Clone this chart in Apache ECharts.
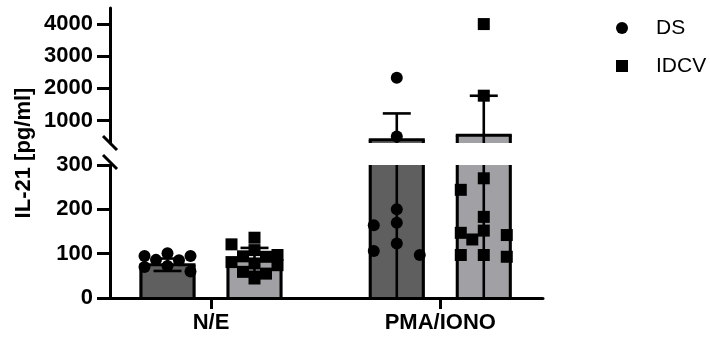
<!DOCTYPE html>
<html><head><meta charset="utf-8">
<script src="https://cdn.jsdelivr.net/npm/echarts@6/dist/echarts.min.js"></script>
<style>html,body{margin:0;padding:0;background:#fff}#c{width:710px;height:342px}</style>
</head><body><div id="c"></div>
<script>
// ---------- data ----------
const categories = ['N/E', 'PMA/IONO'];
const seriesNames = ['DS', 'IDCV'];
const dsPoints = [[95, 70, 86, 101, 72, 85, 95, 60], [170, 97, 123, 200, 164, 106, 2330, 500]];
const idcvPoints = [[121, 108, 136, 74, 93, 97, 81, 78, 44, 55, 59, 94], [132, 93, 244, 183, 152, 270, 142, 97, 147, 97, 4000, 1772]];
const dsMean = [75, 400];
const dsSD = [14, 820];
const idcvMean = [86, 540];
const idcvSD = [27, 1230];
const lowerRange = [0, 300];
const lowerInterval = 100;
const upperRange = [300, 4500];
const upperTicks = [1000, 2000, 3000, 4000];
const yTitle = 'IL-21 [pg/ml]';

// ---------- styles ----------
const FONT = '"Liberation Sans", Arial, sans-serif';
const fills = ['#5f5f5f', '#a1a1a5'];
const symbols = ['circle', 'rect'];
const BAR_OFF = 43.5, BAR_W = 56, LW = 3, CAP = 28, SYM = 12;
const X_MIN = -0.4405, X_MAX = 1.448;

const chart = echarts.init(document.getElementById('c'), null, {renderer: 'canvas'});

function barRender(g) {
  return function (params, api) {
    const cat = api.value(0), mean = api.value(1), sd = api.value(2);
    const cs = params.coordSys;
    const top = cs.y, bot = cs.y + cs.height;
    const clampY = y => Math.max(top, Math.min(bot, y));
    const pm = api.coord([cat, mean]);
    const cx = pm[0] + (g === 0 ? -BAR_OFF : BAR_OFF);
    const yMean = pm[1];
    const yBase = api.coord([cat, 0])[1];
    const y1 = clampY(yMean), y0 = clampY(yBase);
    const left = cx - BAR_W / 2, right = cx + BAR_W / 2;
    const blk = {stroke: '#000', lineWidth: LW};
    const ch = [];
    if (y0 - y1 > 0) {
      ch.push({type: 'rect', shape: {x: left, y: y1, width: BAR_W, height: y0 - y1}, style: {fill: fills[g]}});
      ch.push({type: 'line', shape: {x1: left + LW / 2, y1: y1, x2: left + LW / 2, y2: y0}, style: blk});
      ch.push({type: 'line', shape: {x1: right - LW / 2, y1: y1, x2: right - LW / 2, y2: y0}, style: blk});
      if (yMean >= top && yMean <= bot) {
        ch.push({type: 'line', shape: {x1: left, y1: yMean, x2: right, y2: yMean}, style: blk});
      }
    }
    const yHi = api.coord([cat, mean + sd])[1];
    const yLo = api.coord([cat, Math.max(0, mean - sd)])[1];
    const e1 = clampY(yHi), e0 = clampY(yLo);
    if (e0 - e1 > 0) {
      ch.push({type: 'line', shape: {x1: cx, y1: e1, x2: cx, y2: e0}, style: {stroke: '#000', lineWidth: 2.6}});
    }
    if (yHi >= top && yHi <= bot) {
      ch.push({type: 'line', shape: {x1: cx - CAP / 2, y1: yHi, x2: cx + CAP / 2, y2: yHi}, style: {stroke: '#000', lineWidth: 2.6}});
    }
    if (mean - sd > 0 && yLo >= top && yLo <= bot) {
      ch.push({type: 'line', shape: {x1: cx - CAP / 2, y1: yLo, x2: cx + CAP / 2, y2: yLo}, style: {stroke: '#000', lineWidth: 2.6}});
    }
    return {type: 'group', children: ch};
  };
}

const means = [dsMean, idcvMean];
const sds = [dsSD, idcvSD];
const barData = g => categories.map((c, i) => [i, means[g][i], sds[g][i]]);

const axisLabelStyle = {color: '#000', fontFamily: FONT, fontWeight: 'bold', fontSize: 22};

const baseOption = {
  animation: false,
  backgroundColor: '#fff',
  grid: [
    {left: 110, right: 167, top: 8, height: 135},
    {left: 110, right: 167, top: 165, height: 133}
  ],
  xAxis: [
    {type: 'value', gridIndex: 0, min: X_MIN, max: X_MAX, show: false},
    {type: 'value', gridIndex: 1, min: X_MIN, max: X_MAX, z: 5,
      axisLine: {show: true, onZero: false, lineStyle: {color: '#000', width: LW}},
      axisTick: {show: true, length: 11, lineStyle: {color: '#000', width: LW}, customValues: [0, 1]},
      axisLabel: Object.assign({margin: 14, customValues: [0, 1], formatter: v => categories[Math.round(v)]}, axisLabelStyle),
      splitLine: {show: false}}
  ],
  yAxis: [
    {type: 'value', gridIndex: 0, min: upperRange[0], max: upperRange[1], z: 5,
      axisLine: {show: true, onZero: false, lineStyle: {color: '#000', width: LW}},
      axisTick: {show: true, length: 13, lineStyle: {color: '#000', width: LW}, customValues: upperTicks},
      axisLabel: Object.assign({margin: 17, customValues: upperTicks, formatter: v => String(v)}, axisLabelStyle),
      splitLine: {show: false}},
    {type: 'value', gridIndex: 1, min: lowerRange[0], max: lowerRange[1], interval: lowerInterval, z: 5,
      axisLine: {show: true, onZero: false, lineStyle: {color: '#000', width: LW}},
      axisTick: {show: true, length: 13, lineStyle: {color: '#000', width: LW}},
      axisLabel: Object.assign({margin: 17, formatter: v => String(v)}, axisLabelStyle),
      splitLine: {show: false}}
  ],
  legend: {
    orient: 'vertical', left: 616, top: 17, padding: 0, itemWidth: 12, itemHeight: 12, itemGap: 16,
    selectedMode: false,
    data: [{name: seriesNames[0], icon: symbols[0]}, {name: seriesNames[1], icon: symbols[1]}],
    itemStyle: {color: '#000'},
    textStyle: {fontSize: 21, fontFamily: FONT, color: '#000', lineHeight: 22, padding: [0, 0, 0, 23]}
  },
  series: []
};
[0, 1].forEach(gi => {
  [0, 1].forEach(g => {
    baseOption.series.push({
      type: 'custom', name: seriesNames[g] + ' mean ' + gi, xAxisIndex: gi, yAxisIndex: gi,
      z: 1, renderItem: barRender(g), data: barData(g), silent: true
    });
  });
});
chart.setOption(baseOption);

// ---------- point layout (simple beeswarm) ----------
const pointsByGroup = [dsPoints, idcvPoints];
const scatterData = [[[], []], [[], []]]; // [grid][group]
const offsets = [0, -23, 23, -11.5, 11.5];
pointsByGroup.forEach((pts, g) => {
  categories.forEach((c, ci) => {
    const placed = [[], []];
    pts[ci].slice().sort((a, b) => b - a).forEach(v => {
      const gi = v > lowerRange[1] ? 0 : 1;
      const p = chart.convertToPixel({gridIndex: gi}, [ci, v]);
      const cx = p[0] + (g === 0 ? -BAR_OFF : BAR_OFF);
      let best = cx, bestD = -1;
      for (const off of offsets) {
        const x = cx + off;
        let md = Infinity;
        for (const q of placed[gi]) md = Math.min(md, Math.hypot(q[0] - x, q[1] - p[1]));
        if (md >= 12) { best = x; bestD = md; break; }
        if (md > bestD) { bestD = md; best = x; }
      }
      placed[gi].push([best, p[1]]);
      const dx = chart.convertFromPixel({gridIndex: gi}, [best, p[1]])[0];
      scatterData[gi][g].push([dx, v]);
    });
  });
});
const scatterSeries = [];
[0, 1].forEach(gi => {
  [0, 1].forEach(g => {
    scatterSeries.push({
      type: 'scatter', name: seriesNames[g], xAxisIndex: gi, yAxisIndex: gi, z: 3,
      symbol: symbols[g], symbolSize: SYM, itemStyle: {color: '#000', opacity: 1},
      data: scatterData[gi][g], silent: true
    });
  });
});

// ---------- axis break marks & title ----------
const pUp = chart.convertToPixel({gridIndex: 0}, [X_MIN, upperRange[0]]);
const pLo = chart.convertToPixel({gridIndex: 1}, [X_MIN, lowerRange[1]]);
const brk = (p) => ({type: 'line', z: 10, shape: {x1: p[0] - 7, y1: p[1] - 7, x2: p[0] + 7, y2: p[1] + 7},
  style: {stroke: '#000', lineWidth: LW}});
chart.setOption({
  series: baseOption.series.concat(scatterSeries),
  graphic: [
    brk([pUp[0], pUp[1]]),
    brk([pLo[0], pLo[1] - 3]),
    {type: 'rect', z: 9, shape: {x: pUp[0] - 1.6, y: pUp[1] + 3, width: 3.2, height: pLo[1] - pUp[1] - 6}, style: {fill: '#fff'}},
    {type: 'text', x: 24, y: 153, rotation: Math.PI / 2, z: 10,
      style: {text: yTitle, fill: '#000', font: 'bold 22px ' + FONT, textAlign: 'center', textVerticalAlign: 'middle'}}
  ]
});
</script>
</body></html>
